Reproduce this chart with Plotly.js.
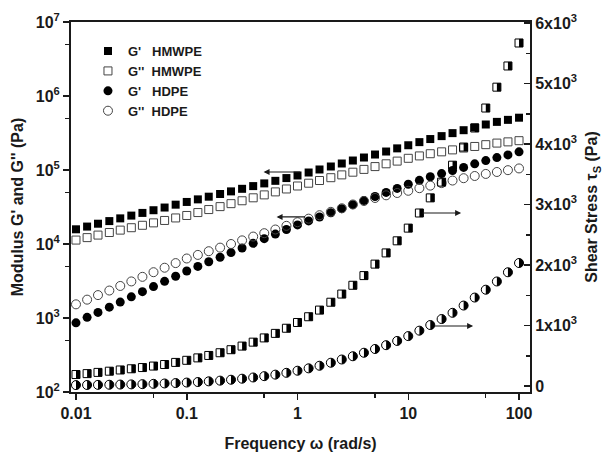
<!DOCTYPE html>
<html><head><meta charset="utf-8">
<script src="https://cdn.plot.ly/plotly-3.0.1.min.js"></script>
<style>html,body{margin:0;padding:0;background:#fff}</style>
</head><body>
<div id="chart" style="width:610px;height:454px"></div>
<script>
// Frequency (rad/s), 10 points per decade
const freq = [0.01, 0.0126, 0.0158, 0.02, 0.0251, 0.0316, 0.0398, 0.0501, 0.0631, 0.0794,
  0.1, 0.126, 0.158, 0.2, 0.251, 0.316, 0.398, 0.501, 0.631, 0.794,
  1, 1.26, 1.58, 2, 2.51, 3.16, 3.98, 5.01, 6.31, 7.94,
  10, 12.6, 15.8, 20, 25.1, 31.6, 39.8, 50.1, 63.1, 79.4, 100];

// Storage / loss modulus (Pa), left log axis
const gPrimeHMWPE = [15800, 17200, 18800, 20400, 22200, 24200, 26300, 28600, 31100, 34000,
  37000, 40100, 43600, 47400, 51400, 55700, 60600, 65900, 71400, 77800,
  84300, 92500, 101600, 111500, 122400, 134300, 147500, 161900, 177700, 196000,
  216000, 238000, 262000, 287000, 315000, 345000, 376000, 412000, 447000, 476000, 509000];
const gDoublePrimeHMWPE = [11300, 12200, 13200, 14300, 15400, 16600, 17900, 19300, 20800, 22500,
  24300, 26600, 29200, 32000, 35100, 38400, 42100, 46100, 50600, 55400,
  60800, 66300, 72100, 78700, 85900, 93400, 101900, 111200, 121300, 131900,
  143900, 155000, 166000, 176000, 187000, 198000, 208000, 220000, 231000, 240000, 249000];
const gPrimeHDPE = [860, 1020, 1190, 1400, 1640, 1930, 2270, 2660, 3130, 3670,
  4320, 4980, 5750, 6630, 7650, 8830, 10200, 11800, 13600, 15700,
  18100, 20500, 23200, 26400, 30000, 34000, 38600, 43800, 49800, 56400,
  64100, 72500, 81000, 89500, 98500, 108500, 121000, 134000, 147000, 160000, 176000];
const gDoublePrimeHDPE = [1530, 1770, 2040, 2350, 2710, 3120, 3600, 4160, 4780, 5520,
  6370, 7120, 7990, 8930, 10000, 11200, 12600, 14000, 15700, 17600,
  19700, 22000, 24500, 27200, 30400, 34200, 38100, 41900, 45500, 48900,
  52400, 56800, 61500, 66500, 72000, 77500, 83000, 88500, 94000, 99500, 105000];

// Shear stress (Pa), right linear axis
const tauHMWPE = [190, 205, 225, 245, 265, 285, 305, 330, 355, 390,
  425, 465, 505, 550, 600, 660, 725, 795, 870, 955,
  1050, 1145, 1255, 1385, 1520, 1665, 1825, 2015, 2200, 2400,
  2610, 2860, 3110, 3370, 3650, 3950, 4265, 4595, 4940, 5290, 5670];
const tauHDPE = [15, 17, 19, 21, 24, 27, 31, 36, 42, 49,
  57, 66, 77, 89, 104, 121, 141, 163, 188, 218,
  253, 292, 335, 385, 438, 492, 550, 612, 675, 745,
  825, 915, 1008, 1107, 1210, 1330, 1462, 1592, 1728, 1880, 2033];

const seriesNames = ["G'\u00a0\u00a0\u00a0HMWPE", "G''\u00a0\u00a0HMWPE", "G'\u00a0\u00a0\u00a0HDPE", "G''\u00a0\u00a0HDPE"];

const xTickVals = [0.01, 0.1, 1, 10, 100];
const xTickText = ['0.01', '0.1', '1', '10', '100'];
const xMinorVals = [0.05, 0.5, 5, 50];
const yTickVals = [1e2, 1e3, 1e4, 1e5, 1e6, 1e7];
const yTickText = ['10<sup>2</sup>', '10<sup>3</sup>', '10<sup>4</sup>', '10<sup>5</sup>', '10<sup>6</sup>', '10<sup>7</sup>'];
const yMinorVals = [5e2, 5e3, 5e4, 5e5, 5e6];
const y2TickVals = [0, 1000, 2000, 3000, 4000, 5000, 6000];
const y2TickText = ['0', '1x10<sup>3</sup>', '2x10<sup>3</sup>', '3x10<sup>3</sup>', '4x10<sup>3</sup>', '5x10<sup>3</sup>', '6x10<sup>3</sup>'];
const y2MinorVals = [500, 1500, 2500, 3500, 4500, 5500];

// arrow annotations: [freq, value, axis, tail offset px]
const arrowSpecs = [
  [0.494, 94000, 'y', 38],
  [0.647, 23200, 'y', 30],
  [30.0, 2860, 'y2', -40],
  [38.5, 992, 'y2', -40]
];

const FONT = 'Liberation Sans, Arial, sans-serif';
const INK = '#1a1a1a';

function layer(y, marker) {
  return {x: freq, y: y, yaxis: 'y2', type: 'scatter', mode: 'markers', marker: marker,
    showlegend: false, hoverinfo: 'skip'};
}

const traces = [
  // HDPE shear stress: half-filled circles (right half black)
  layer(tauHDPE, {symbol: 'circle', size: 9, color: '#000', line: {width: 0}}),
  layer(tauHDPE, {symbol: 'line-ew', size: 6.6, angle: 90, standoff: 2.3, color: '#fff', line: {width: 4.6, color: '#fff'}}),
  layer(tauHDPE, {symbol: 'circle-open', size: 9, color: '#000', line: {width: 1, color: '#000'}}),
  // HMWPE shear stress: half-filled squares (right half black)
  layer(tauHMWPE, {symbol: 'square-open', size: 8, color: '#000', line: {width: 1, color: '#000'}}),
  layer(tauHMWPE, {symbol: 'line-ew', size: 5.8, angle: 270, standoff: 2, color: '#000', line: {width: 4, color: '#000'}}),
  // Moduli
  {x: freq, y: gPrimeHMWPE, name: seriesNames[0], type: 'scatter', mode: 'markers',
   marker: {symbol: 'square', size: 8, color: '#000'}},
  {x: freq, y: gDoublePrimeHMWPE, name: seriesNames[1], type: 'scatter', mode: 'markers',
   marker: {symbol: 'square-open', size: 8, color: '#444', line: {width: 1}}},
  {x: freq, y: gPrimeHDPE, name: seriesNames[2], type: 'scatter', mode: 'markers',
   marker: {symbol: 'circle', size: 9, color: '#000'}},
  {x: freq, y: gDoublePrimeHDPE, name: seriesNames[3], type: 'scatter', mode: 'markers',
   marker: {symbol: 'circle-open', size: 9, color: '#444', line: {width: 1}}}
];

const tickFont = {family: FONT, size: 16, weight: 'bold', color: INK};
const titleFont = {family: FONT, size: 16, weight: 'bold', color: INK};

const layout = {
  width: 610, height: 454,
  margin: {l: 71, r: 80, t: 22, b: 62},
  paper_bgcolor: '#fff', plot_bgcolor: '#fff',
  showlegend: true,
  legend: {x: 0.037, y: 0.962, xanchor: 'left', yanchor: 'top', bgcolor: 'rgba(0,0,0,0)',
    font: {family: FONT, size: 13, weight: 'bold', color: INK}, traceorder: 'normal'},
  xaxis: {type: 'log', range: [-2.045, 2.099], tickmode: 'array', tickvals: xTickVals, ticktext: xTickText,
    ticks: 'outside', ticklen: 6, tickwidth: 1.5, tickcolor: INK,
    showline: true, linewidth: 2, linecolor: INK, mirror: true, showgrid: false, zeroline: false,
    tickfont: tickFont,
    minor: {tickmode: 'array', tickvals: xMinorVals, ticks: 'outside', ticklen: 4, tickwidth: 1.5, tickcolor: INK, showgrid: false},
    title: {text: 'Frequency \u03C9 (rad/s)', font: titleFont, standoff: 17}},
  yaxis: {type: 'log', range: [2, 7], tickmode: 'array', tickvals: yTickVals, ticktext: yTickText,
    ticks: 'outside', ticklen: 6, tickwidth: 1.5, tickcolor: INK,
    showline: true, linewidth: 2, linecolor: INK, showgrid: false, zeroline: false,
    tickfont: tickFont,
    minor: {tickmode: 'array', tickvals: yMinorVals, ticks: 'outside', ticklen: 4, tickwidth: 1.5, tickcolor: INK, showgrid: false},
    title: {text: "Modulus G' and G'' (Pa)", font: titleFont, standoff: 8}},
  yaxis2: {overlaying: 'y', side: 'right', range: [-99, 6017], tickmode: 'array', tickvals: y2TickVals, ticktext: y2TickText,
    ticks: 'inside', ticklen: 6, tickwidth: 1.5, tickcolor: INK,
    showline: true, linewidth: 2, linecolor: INK, showgrid: false, zeroline: false,
    tickfont: tickFont,
    minor: {tickmode: 'array', tickvals: y2MinorVals, ticks: 'inside', ticklen: 4, tickwidth: 1.5, tickcolor: INK, showgrid: false},
    title: {text: 'Shear Stress \u03C4<sub>S</sub> (Pa)', font: titleFont, standoff: 10}},
  annotations: arrowSpecs.map(function (a) {
    return {x: Math.log10(a[0]), y: a[2] === 'y' ? Math.log10(a[1]) : a[1], xref: 'x', yref: a[2],
      text: '', showarrow: true, arrowhead: 2, arrowsize: 1, arrowwidth: 1.2, arrowcolor: INK,
      ax: a[3], ay: 0, standoff: 0};
  })
};

Plotly.newPlot('chart', traces, layout, {displayModeBar: false, staticPlot: true});
</script>
</body></html>
